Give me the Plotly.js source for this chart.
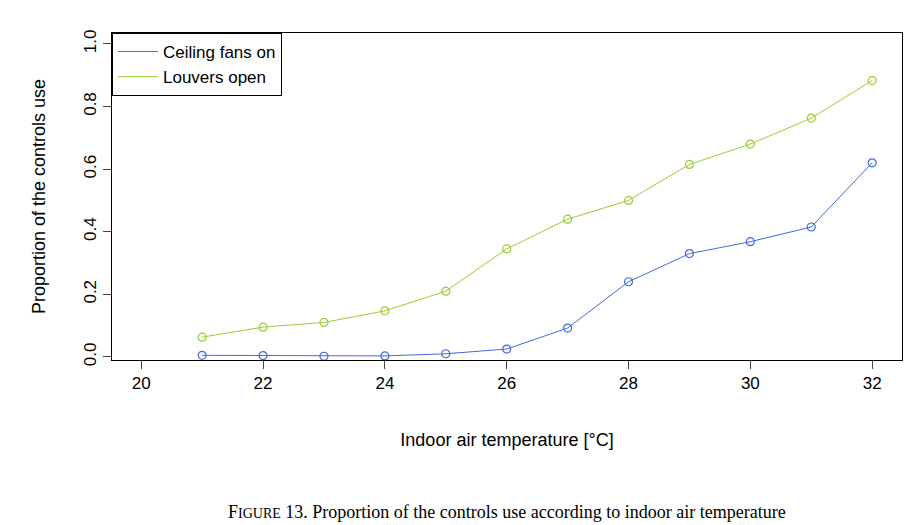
<!DOCTYPE html>
<html>
<head>
<script src="https://cdn.plot.ly/plotly-3.0.1.min.js"></script>
<style>body{margin:0;background:#fff}</style>
</head>
<body>
<div id="chart" style="width:922px;height:525px"></div>
<script>
const temps = [21, 22, 23, 24, 25, 26, 27, 28, 29, 30, 31, 32];
const fansOn = [0.005, 0.004, 0.002, 0.003, 0.01, 0.025, 0.092, 0.24, 0.33, 0.368, 0.415, 0.62];
const louversOpen = [0.063, 0.095, 0.11, 0.147, 0.21, 0.345, 0.44, 0.50, 0.615, 0.68, 0.763, 0.883];
const xTicks = [20, 22, 24, 26, 28, 30, 32];
const yTicks = [0, 0.2, 0.4, 0.6, 0.8, 1.0];
const yTickText = ['0.0', '0.2', '0.4', '0.6', '0.8', '1.0'];

const mk = (name, y, color) => ({
  x: temps, y: y, name: name, type: 'scatter', mode: 'lines+markers', showlegend: false,
  line: {color: color, width: 1},
  marker: {symbol: 'circle-open', size: 8, color: color, line: {width: 1.2, color: color}}
});
// legend entries show only the line, like R's legend(lty=1)
const leg = (name, color) => ({
  x: [null], y: [null], name: name, type: 'scatter', mode: 'lines',
  line: {color: color, width: 1}
});

const data = [
  mk('Ceiling fans on', fansOn, '#4169e1'),
  mk('Louvers open', louversOpen, '#9acd32'),
  leg('Ceiling fans on', '#4169e1'),
  leg('Louvers open', '#9acd32')
];

const layout = {
  width: 922, height: 525,
  margin: {l: 112, r: 20, t: 33, b: 165},
  paper_bgcolor: '#fff', plot_bgcolor: '#fff',
  font: {family: 'Liberation Sans, Arial', size: 17, color: '#000'},
  showlegend: true,
  legend: {x: 0, y: 1, xanchor: 'left', yanchor: 'top', bordercolor: '#000', borderwidth: 1,
    font: {size: 17}, bgcolor: '#fff', tracegroupgap: 0, itemwidth: 40},
  xaxis: {
    range: [19.52, 32.49], tickvals: xTicks, ticks: 'outside', ticklen: 8,
    showline: true, mirror: true, linecolor: '#000', showgrid: false, zeroline: false,
    title: {text: 'Indoor air temperature [°C]', standoff: 40, font: {size: 18}}
  },
  yaxis: {
    range: [-0.01, 1.035], tickvals: yTicks, ticktext: yTickText, tickangle: -90,
    ticks: 'outside', ticklen: 8, showline: true, mirror: true, linecolor: '#000',
    showgrid: false, zeroline: false,
    title: {text: 'Proportion of the controls use', standoff: 30, font: {size: 18}}
  },
  annotations: [{
    xref: 'paper', yref: 'paper', x: 0.5, y: -0.5, xanchor: 'center', showarrow: false,
    text: 'F<span style="font-size:14px">IGURE</span> 13. Proportion of the controls use according to indoor air temperature',
    font: {family: 'Liberation Serif, serif', size: 18}
  }]
};

Plotly.newPlot('chart', data, layout, {displayModeBar: false});
</script>
</body>
</html>
